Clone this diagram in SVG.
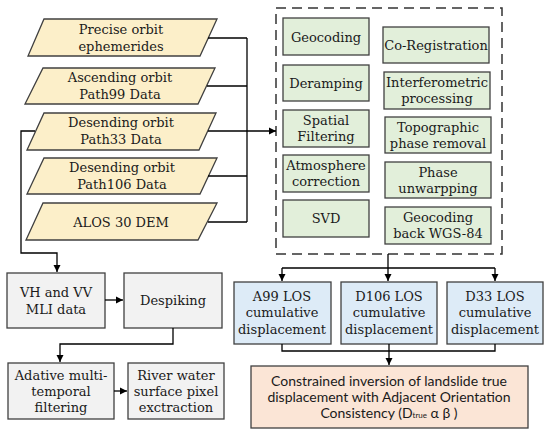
<svg xmlns="http://www.w3.org/2000/svg" width="550" height="435" viewBox="0 0 550 435">
<defs>
<marker id="arr" markerWidth="8" markerHeight="8" refX="7" refY="4" orient="auto" markerUnits="userSpaceOnUse">
<path d="M0,0.5 L7,4 L0,7.5 Z" fill="#000"/>
</marker>
</defs>
<style>
.par{fill:#FCEFC9;stroke:#404040;stroke-width:1.3}
.grn{fill:#E2EFDA;stroke:#404040;stroke-width:1.3}
.gry{fill:#F2F2F2;stroke:#404040;stroke-width:1.3}
.blu{fill:#DDEBF7;stroke:#404040;stroke-width:1.3}
.org{fill:#FBE5D6;stroke:#404040;stroke-width:1.3}
.con{fill:none;stroke:#000;stroke-width:1.3}
</style>
<rect width="550" height="435" fill="#fff"/>

<g font-family="'DejaVu Serif', serif" font-size="13" fill="#1a1a1a" text-anchor="middle">
<g id="inputs">
<g id="n-precise"><polygon class="par" points="44,19 217,19 200,56 28,56"/><text x="121" y="34">Precise orbit</text><text x="121" y="51">ephemerides</text></g>
<g id="n-path99"><polygon class="par" points="43,68 215,68 198,104 25,104"/><text x="120" y="82">Ascending orbit</text><text x="120" y="99">Path99 Data</text></g>
<g id="n-path33"><polygon class="par" points="44,113 216,113 199,150 27,150"/><text x="121" y="127">Desending orbit</text><text x="121" y="144">Path33  Data</text></g>
<g id="n-path106"><polygon class="par" points="44,158 217,158 200,194 27,194"/><text x="122" y="172">Desending orbit</text><text x="122" y="189">Path106  Data</text></g>
<g id="n-dem"><polygon class="par" points="43,203 217,203 198,240 26,240"/><text x="121" y="227">ALOS 30 DEM</text></g>
</g>

<g id="n-process">
<rect x="276" y="8" width="226" height="246" fill="none" stroke="#333" stroke-width="1.5" stroke-dasharray="10,6"/>
<g id="n-geocoding"><rect class="grn" x="283" y="18" width="86" height="37"/><text x="326" y="42">Geocoding</text></g>
<g id="n-deramping"><rect class="grn" x="283" y="65" width="86" height="36"/><text x="326" y="88">Deramping</text></g>
<g id="n-spatial"><rect class="grn" x="283" y="110" width="86" height="37"/><text x="326" y="125">Spatial</text><text x="326" y="141">Filtering</text></g>
<g id="n-atmos"><rect class="grn" x="283" y="155" width="86" height="37"/><text x="326" y="170">Atmosphere</text><text x="326" y="186">correction</text></g>
<g id="n-svd"><rect class="grn" x="283" y="200" width="86" height="37"/><text x="326" y="223">SVD</text></g>
<g id="n-coreg"><rect class="grn" x="383" y="27" width="106" height="36"/><text x="436" y="50">Co-Registration</text></g>
<g id="n-interf"><rect class="grn" x="384" y="72" width="106" height="37"/><text x="437" y="87">Interferometric</text><text x="437" y="103">processing</text></g>
<g id="n-topo"><rect class="grn" x="385" y="117" width="106" height="36"/><text x="438" y="132">Topographic</text><text x="438" y="148">phase removal</text></g>
<g id="n-phase"><rect class="grn" x="385" y="162" width="106" height="36"/><text x="438" y="177">Phase</text><text x="438" y="193">unwarpping</text></g>
<g id="n-geoback"><rect class="grn" x="385" y="207" width="106" height="37"/><text x="438" y="222">Geocoding</text><text x="438" y="238">back WGS-84</text></g>
</g>

<g id="n-vhvv"><rect class="gry" x="7" y="273" width="98" height="55"/><text x="56" y="297">VH and VV</text><text x="56" y="314">MLI data</text></g>
<g id="n-despiking"><rect class="gry" x="124" y="273" width="98" height="55"/><text x="173" y="305">Despiking</text></g>
<g id="n-adaptive"><rect class="gry" x="8" y="363" width="106" height="56"/><text x="61" y="380">Adative multi-</text><text x="61" y="396">temporal</text><text x="61" y="412">filtering</text></g>
<g id="n-river"><rect class="gry" x="128" y="363" width="96" height="56"/><text x="176" y="380">River water</text><text x="176" y="396">surface pixel</text><text x="176" y="412">exctraction</text></g>

<g id="n-a99"><rect class="blu" x="234" y="282" width="97" height="62"/><text x="282" y="301">A99 LOS</text><text x="282" y="317">cumulative</text><text x="282" y="334">displacement</text></g>
<g id="n-d106"><rect class="blu" x="341" y="282" width="96" height="62"/><text x="389" y="301">D106 LOS</text><text x="389" y="317">cumulative</text><text x="389" y="334">displacement</text></g>
<g id="n-d33"><rect class="blu" x="447" y="282" width="96" height="62"/><text x="495" y="301">D33 LOS</text><text x="495" y="317">cumulative</text><text x="495" y="334">displacement</text></g>
</g>

<g id="n-inversion" font-family="Lato, 'Open Sans', sans-serif" font-size="14" fill="#1a1a1a" text-anchor="middle"><rect class="org" x="251" y="366" width="277" height="62"/>
<text x="389" y="386">Constrained inversion of  landslide true</text>
<text x="389" y="402">displacement with Adjacent Orientation</text>
<text x="389" y="418">Consistency (D<tspan font-size="8">true</tspan>  α  β )</text>
</g>

<g id="connectors">
<polyline class="con" points="208,38 247,38"/>
<polyline class="con" points="207,86 247,86"/>
<polyline class="con" points="208,176 247,176"/>
<polyline class="con" points="208,222 247,222"/>
<polyline class="con" points="247,38 247,222"/>
<polyline class="con" points="208,131 276,131" marker-end="url(#arr)"/>
<polyline class="con" points="35,131 21,131 21,253 57,253 57,272" marker-end="url(#arr)"/>
<polyline class="con" points="105,300 123,300" marker-end="url(#arr)"/>
<polyline class="con" points="173,328 173,344 60,344 60,362" marker-end="url(#arr)"/>
<polyline class="con" points="114,391 127,391" marker-end="url(#arr)"/>
<polyline class="con" points="388,254 388,281" marker-end="url(#arr)"/>
<polyline class="con" points="282,268 282,281" marker-end="url(#arr)"/>
<polyline class="con" points="495,268 495,281" marker-end="url(#arr)"/>
<polyline class="con" points="282,268 495,268"/>
<polyline class="con" points="282,344 282,351 495,351 495,344"/>
<polyline class="con" points="389,344 389,365" marker-end="url(#arr)"/>
</g>
</svg>
